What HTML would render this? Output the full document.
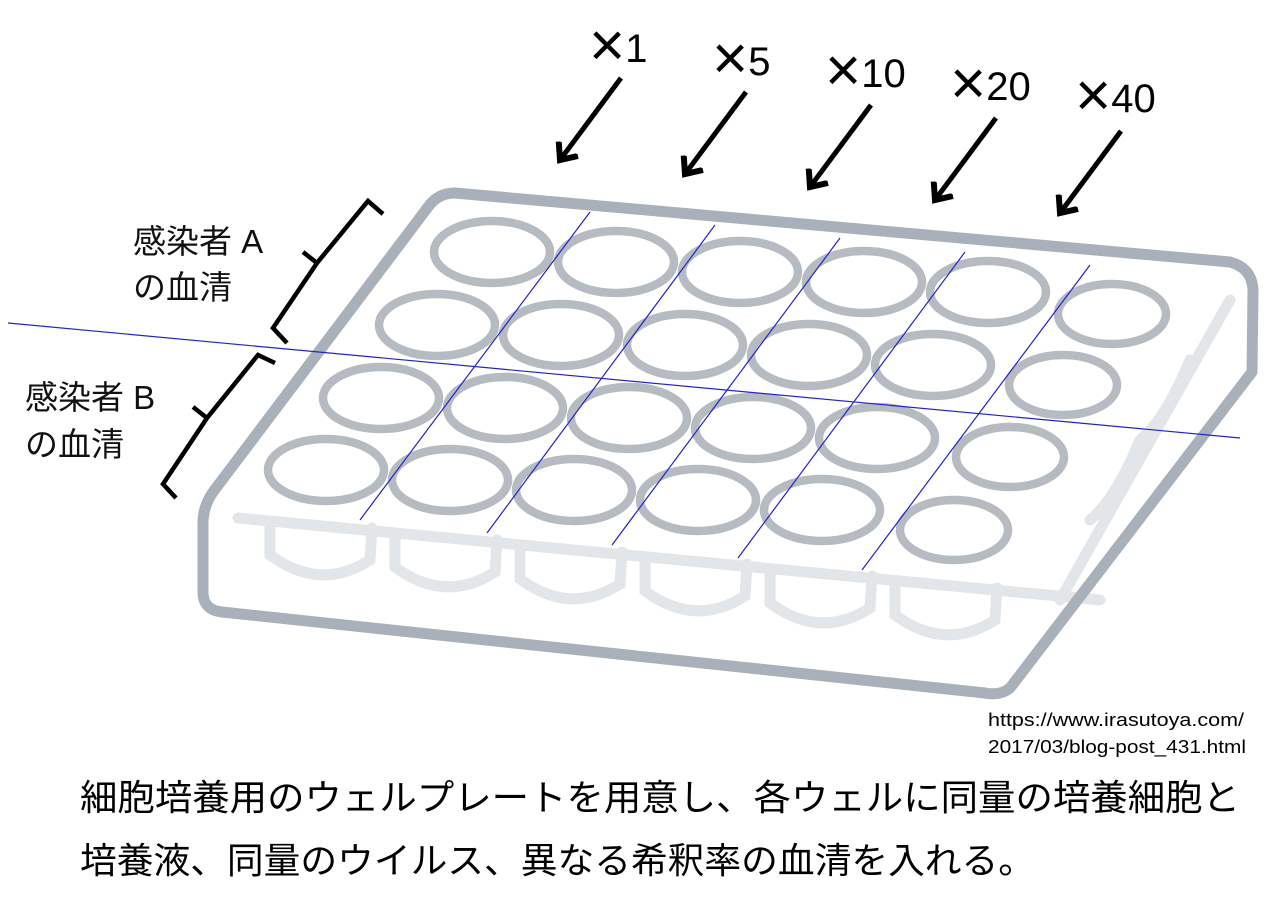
<!DOCTYPE html>
<html><head><meta charset="utf-8"><style>
html,body{margin:0;padding:0;background:#fff;}
svg{display:block;}
text{font-family:"Liberation Sans","Noto Sans CJK JP",sans-serif;}
</style></head><body>
<svg width="1287" height="908" viewBox="0 0 1287 908" xmlns="http://www.w3.org/2000/svg">
<defs>
<marker id="ah" markerWidth="6" markerHeight="6" refX="3" refY="3" orient="auto" markerUnits="strokeWidth">
<path d="M0.2,0.6 L3,3 L0.2,5.4" fill="none" stroke="#000" stroke-width="1.2"/>
</marker>
</defs>
<g fill="none" stroke="#e3e6e9" stroke-width="11" stroke-linecap="round">
<path d="M238,518 L1100,600"/>
<path d="M270,522 L270,555 Q320,592 370,560 L372,528"/>
<path d="M395,534 L395,567 Q445,604 495,572 L497,540"/>
<path d="M520,546 L520,579 Q570,616 620,584 L622,552"/>
<path d="M645,558 L645,591 Q695,628 745,596 L747,564"/>
<path d="M770,570 L770,603 Q820,640 870,608 L872,576"/>
<path d="M895,582 L895,615 Q945,652 995,620 L997,588"/>
<path d="M1230,300 L1060,600"/>
<path d="M1190,360 Q1165,420 1140,440"/>
<path d="M1140,440 Q1115,500 1090,520"/>
</g>
<path d="M455,193 L1230,262 Q1252,268 1253,290 L1252,372 L1010,688 Q1000,696 985,693 L222,612 Q203,610 203,592 L203,520 Q204,505 213,492 L428,207 Q438,193 455,193 Z" fill="none" stroke="#a8b1ba" stroke-width="11" stroke-linejoin="round"/>
<g fill="none" stroke="#b6bbc1" stroke-width="8.5">
<ellipse cx="492" cy="252" rx="58" ry="31"/>
<ellipse cx="616" cy="262" rx="58" ry="31"/>
<ellipse cx="740" cy="272" rx="58" ry="31"/>
<ellipse cx="864" cy="282" rx="58" ry="31"/>
<ellipse cx="988" cy="292" rx="58" ry="31"/>
<ellipse cx="1112" cy="314" rx="54" ry="30"/>
<ellipse cx="437" cy="325" rx="58" ry="31"/>
<ellipse cx="561" cy="335" rx="58" ry="31"/>
<ellipse cx="685" cy="345" rx="58" ry="31"/>
<ellipse cx="809" cy="355" rx="58" ry="31"/>
<ellipse cx="933" cy="365" rx="58" ry="31"/>
<ellipse cx="1063" cy="385" rx="54" ry="30"/>
<ellipse cx="381" cy="398" rx="58" ry="31"/>
<ellipse cx="505" cy="408" rx="58" ry="31"/>
<ellipse cx="629" cy="418" rx="58" ry="31"/>
<ellipse cx="753" cy="428" rx="58" ry="31"/>
<ellipse cx="877" cy="438" rx="58" ry="31"/>
<ellipse cx="1010" cy="457" rx="54" ry="30"/>
<ellipse cx="326" cy="470" rx="58" ry="31"/>
<ellipse cx="450" cy="480" rx="58" ry="31"/>
<ellipse cx="574" cy="490" rx="58" ry="31"/>
<ellipse cx="698" cy="500" rx="58" ry="31"/>
<ellipse cx="822" cy="510" rx="58" ry="31"/>
<ellipse cx="954" cy="530" rx="54" ry="30"/>
</g>
<g stroke="#2222cc" stroke-width="1.2">
<line x1="8" y1="323" x2="1240" y2="438"/>
<line x1="590" y1="212" x2="360" y2="520"/>
<line x1="715" y1="225" x2="487" y2="533"/>
<line x1="840" y1="238" x2="612" y2="545"/>
<line x1="965" y1="252" x2="738" y2="558"/>
<line x1="1090" y1="265" x2="862" y2="570"/>
</g>
<g stroke="#000" stroke-width="5" fill="none">
<line x1="621" y1="78" x2="560" y2="160" marker-end="url(#ah)"/>
<line x1="746" y1="92" x2="685" y2="174" marker-end="url(#ah)"/>
<line x1="871" y1="105" x2="810" y2="187" marker-end="url(#ah)"/>
<line x1="996" y1="118" x2="935" y2="200" marker-end="url(#ah)"/>
<line x1="1121" y1="131" x2="1060" y2="213" marker-end="url(#ah)"/>
</g>
<g font-size="40" fill="#000">
<text x="589" y="62"><tspan font-size="62" dy="4">×</tspan><tspan dy="-4">1</tspan></text>
<text x="712" y="75"><tspan font-size="62" dy="4">×</tspan><tspan dy="-4">5</tspan></text>
<text x="825" y="87"><tspan font-size="62" dy="4">×</tspan><tspan dy="-4">10</tspan></text>
<text x="950" y="100"><tspan font-size="62" dy="4">×</tspan><tspan dy="-4">20</tspan></text>
<text x="1075" y="112"><tspan font-size="62" dy="4">×</tspan><tspan dy="-4">40</tspan></text>
</g>
<g stroke="#000" stroke-width="4.5" fill="none">
<path d="M383,214 L368,201 L317,263 L273,328 L287,343"/>
<path d="M303,252 L317,263"/>
<path d="M275,363 L258,355 L207,418 L163,484 L176,498"/>
<path d="M193,407 L207,418"/>
</g>
<g font-size="33" fill="#111">
<text x="133" y="253">感染者 A</text>
<text x="133" y="299">の血清</text>
<text x="25" y="409">感染者 B</text>
<text x="25" y="456">の血清</text>
</g>
<g font-size="18" fill="#000">
<text x="988" y="726" textLength="256" lengthAdjust="spacingAndGlyphs">https://www.irasutoya.com/</text>
<text x="988" y="753" textLength="258" lengthAdjust="spacingAndGlyphs">2017/03/blog-post_431.html</text>
</g>
<g font-size="36" fill="#000">
<text x="80" y="810" textLength="1160" lengthAdjust="spacingAndGlyphs">細胞培養用のウェルプレートを用意し、各ウェルに同量の培養細胞と</text>
<text x="80" y="873" textLength="955" lengthAdjust="spacingAndGlyphs">培養液、同量のウイルス、異なる希釈率の血清を入れる。</text>
</g>
</svg>
</body></html>
